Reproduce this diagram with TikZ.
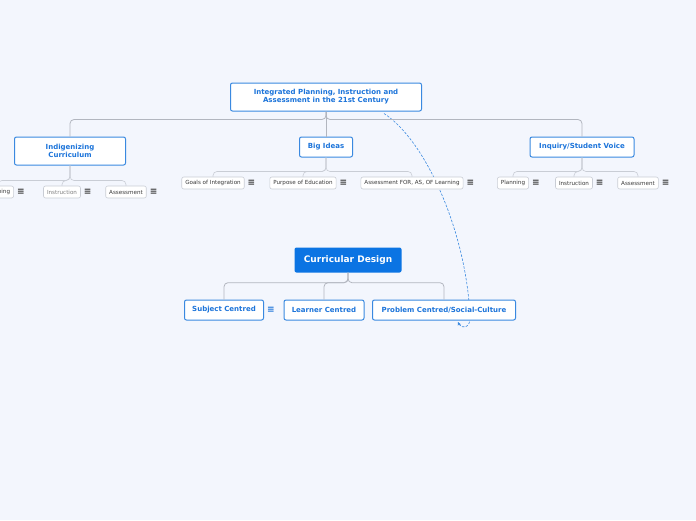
\documentclass[tikz,border=0pt]{standalone}
\usepackage{fontspec}
\setmainfont{DejaVu Sans}
\usetikzlibrary{positioning,calc,arrows.meta}
\definecolor{mmback}{HTML}{F3F6FD}
\definecolor{mmblue}{HTML}{1C74DA}
\definecolor{mmedge}{HTML}{3A89E0}
\definecolor{mmfill}{HTML}{0B74E3}
\definecolor{mmline}{HTML}{B2B6BF}
\definecolor{mmsub}{HTML}{C9CDD5}
\definecolor{mmtext}{HTML}{3A3A3A}
\pgfdeclarelayer{behind}
\pgfsetlayers{behind,main}
\tikzset{topic/.style={draw=mmedge,fill=white,line width=1pt,rounded corners=2pt,
    text=mmblue,align=center,inner sep=0pt,font=\bfseries\fontsize{7}{8}\selectfont}}
\tikzset{central/.style={fill=mmfill,rounded corners=2pt,text=white,inner sep=0pt,
    minimum width=107pt,minimum height=25pt,font=\bfseries\fontsize{9}{10}\selectfont}}
\tikzset{subtopic/.style={draw=mmsub,fill=white,line width=0.6pt,rounded corners=2pt,
    text=mmtext,inner xsep=3.5pt,inner ysep=0pt,minimum height=12pt,font=\fontsize{5.6}{6}\selectfont}}
\tikzset{branch/.style={draw=mmline,line width=0.8pt,rounded corners=4pt}}
\tikzset{twig/.style={draw=mmsub,line width=0.6pt,rounded corners=4pt}}
\tikzset{notes/.style={text=mmtext,inner sep=0pt,font=\bfseries\fontsize{9}{9}\selectfont}}
\tikzset{relation/.style={draw=mmedge,line width=0.6pt,dash pattern=on 2.5pt off 1.5pt,
    -{Stealth[length=5pt,width=4.5pt]}}}
\begin{document}
\begin{tikzpicture}[x=1pt,y=-1pt]
\useasboundingbox (0,0) rectangle (696,520);
\clip (0,0) rectangle (696,520);

\node[topic,minimum width=191pt,minimum height=28pt] (root) at (326,97)
    {Integrated Planning, Instruction and\\Assessment in the 21st Century};
\node[topic,minimum width=111pt,minimum height=28pt] (indig) at (70,151) {Indigenizing\\Curriculum};
\node[topic,minimum width=53pt,minimum height=20pt] (big) at (326,147) {Big Ideas};
\node[topic,minimum width=104pt,minimum height=20pt] (inquiry) at (582,147) {Inquiry/Student Voice};

\draw[branch] (root.south) -- ++(0,8) -| (indig.north);
\draw[branch] (root.south) -- (big.north);
\draw[branch] (root.south) -- ++(0,8) -| (inquiry.north);

% indigenizing
\node[subtopic] (iplan) at (-2,192) {Planning};
\node[subtopic,text=gray] (iinstr) at (62,192) {Instruction};
\node[subtopic] (iassess) at (126,192) {Assessment};
\draw[twig] (indig.south) -- ++(0,15) -| (iplan.north);
\draw[twig] (indig.south) -- ++(0,15) -| (iinstr.north);
\draw[twig] (indig.south) -- ++(0,15) -| (iassess.north);

% big ideas
\node[subtopic] (goals) at (213,183) {Goals of Integration};
\node[subtopic] (purpose) at (303,183) {Purpose of Education};
\node[subtopic] (forasof) at (412,183) {Assessment FOR, AS, OF Learning};
\draw[twig] (big.south) -- ++(0,14) -| (goals.north);
\draw[twig] (big.south) -- ++(0,14) -| (purpose.north);
\draw[twig] (big.south) -- ++(0,14) -| (forasof.north);

% inquiry
\node[subtopic] (qplan) at (513,183) {Planning};
\node[subtopic] (qinstr) at (574,183) {Instruction};
\node[subtopic] (qassess) at (638,183) {Assessment};
\draw[twig] (inquiry.south) -- ++(0,14) -| (qplan.north);
\draw[twig] (inquiry.south) -- ++(0,14) -| (qinstr.north);
\draw[twig] (inquiry.south) -- ++(0,14) -| (qassess.north);

\foreach \n in {iplan,iinstr,iassess,goals,purpose,forasof,qplan,qinstr,qassess}
  \node[notes,right=3pt of \n] (\n-notes) {≡};

% curricular design
\node[central] (design) at (348,260) {Curricular Design};
\node[topic,minimum width=79pt,minimum height=20pt] (subject) at (224,310) {Subject Centred};
\node[topic,minimum width=80pt,minimum height=20pt] (learner) at (324,310) {Learner Centred};
\node[topic,minimum width=143pt,minimum height=20pt] (problem) at (444,310) {Problem Centred/Social-Culture};
\node[notes,text=mmblue,right=3pt of subject] (subject-notes) {≡};
\draw[branch] (design.south) -- ++(0,10) -| (subject.north);
\draw[branch] (design.south) -- ++(0,10) -| (learner.north);
\draw[branch] (design.south) -- ++(0,10) -| (problem.north);

\coordinate (relstart) at ($(problem.south)+(14,1.5)$);
\coordinate (relend) at ($(root.south)+(58,2)$);
\begin{pgfonlayer}{behind}
\fill[mmback] (0,0) rectangle (696,520);
\draw[relation,{Stealth[length=3.5pt,width=3.5pt]}-] (relstart) .. controls (461,329) and (471,329) .. (470,316)
    .. controls (466,230) and (425,140) .. (relend);
\end{pgfonlayer}
\end{tikzpicture}
\end{document}
